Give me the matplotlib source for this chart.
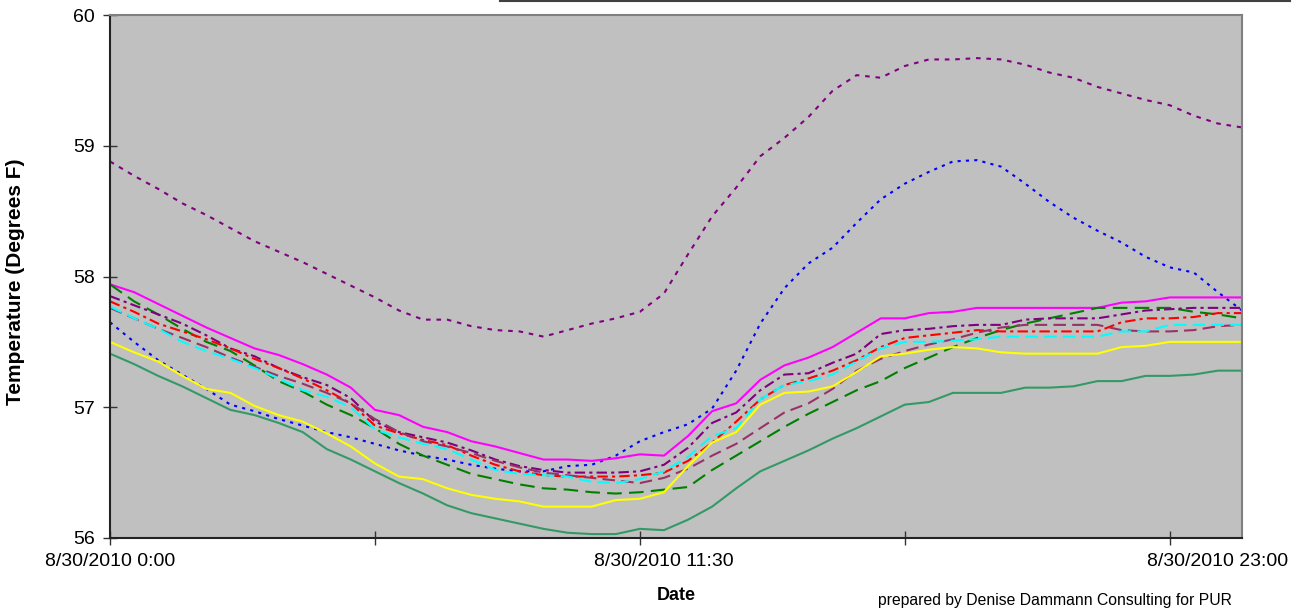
import matplotlib
matplotlib.use("Agg")
import matplotlib.pyplot as plt
from matplotlib.lines import Line2D

plt.rcParams["font.family"] = ["Liberation Sans", "DejaVu Sans"]

# half-hourly readings, 8/30/2010 0:00 to 23:30
hours = [i * 0.5 for i in range(48)]

s_purple_dot = [58.88, 58.77, 58.67, 58.56, 58.47, 58.37, 58.27, 58.19, 58.11, 58.02,
                57.93, 57.84, 57.74, 57.67, 57.67, 57.62, 57.59, 57.58, 57.54, 57.59,
                57.64, 57.68, 57.73, 57.87, 58.17, 58.46, 58.68, 58.92, 59.06, 59.22,
                59.42, 59.54, 59.52, 59.61, 59.66, 59.66, 59.67, 59.66, 59.62, 59.56,
                59.52, 59.45, 59.40, 59.35, 59.31, 59.23, 59.17, 59.14]
s_blue_dot = [57.65, 57.50, 57.36, 57.25, 57.14, 57.02, 56.97, 56.91, 56.86, 56.81,
              56.77, 56.72, 56.67, 56.63, 56.60, 56.56, 56.53, 56.51, 56.51, 56.55,
              56.56, 56.63, 56.74, 56.81, 56.87, 56.99, 57.28, 57.64, 57.91, 58.10,
              58.22, 58.41, 58.59, 58.71, 58.80, 58.88, 58.89, 58.84, 58.71, 58.57,
              58.45, 58.35, 58.26, 58.15, 58.07, 58.03, 57.88, 57.74]
s_magenta = [57.94, 57.88, 57.79, 57.70, 57.61, 57.53, 57.45, 57.40, 57.33, 57.25,
             57.15, 56.98, 56.94, 56.85, 56.81, 56.74, 56.70, 56.65, 56.60, 56.60,
             56.59, 56.61, 56.64, 56.63, 56.78, 56.97, 57.03, 57.21, 57.32, 57.38,
             57.46, 57.57, 57.68, 57.68, 57.72, 57.73, 57.76, 57.76, 57.76, 57.76,
             57.76, 57.76, 57.80, 57.81, 57.84, 57.84, 57.84, 57.84]
s_green_dash = [57.94, 57.81, 57.71, 57.60, 57.50, 57.43, 57.32, 57.20, 57.12, 57.02,
                56.94, 56.84, 56.72, 56.63, 56.56, 56.49, 56.45, 56.41, 56.38, 56.37,
                56.35, 56.34, 56.35, 56.37, 56.39, 56.52, 56.63, 56.74, 56.85, 56.95,
                57.04, 57.13, 57.20, 57.30, 57.38, 57.46, 57.53, 57.59, 57.64, 57.68,
                57.72, 57.76, 57.76, 57.76, 57.76, 57.73, 57.71, 57.68]
s_purple_dashdot = [57.85, 57.78, 57.71, 57.64, 57.55, 57.45, 57.39, 57.30, 57.23, 57.17,
                    57.07, 56.89, 56.81, 56.77, 56.73, 56.67, 56.60, 56.55, 56.52, 56.50,
                    56.50, 56.50, 56.51, 56.56, 56.69, 56.88, 56.96, 57.13, 57.25, 57.26,
                    57.34, 57.41, 57.56, 57.59, 57.60, 57.62, 57.63, 57.63, 57.67, 57.68,
                    57.68, 57.68, 57.71, 57.74, 57.75, 57.76, 57.76, 57.76]
s_red_dashdot = [57.81, 57.73, 57.64, 57.58, 57.52, 57.45, 57.37, 57.30, 57.22, 57.13,
                 57.03, 56.86, 56.80, 56.75, 56.71, 56.63, 56.56, 56.51, 56.48, 56.47,
                 56.47, 56.47, 56.48, 56.50, 56.59, 56.73, 56.89, 57.06, 57.17, 57.22,
                 57.28, 57.36, 57.46, 57.53, 57.55, 57.57, 57.59, 57.58, 57.58, 57.58,
                 57.58, 57.58, 57.65, 57.68, 57.68, 57.69, 57.72, 57.72]
s_plum_dash = [57.76, 57.68, 57.60, 57.53, 57.46, 57.38, 57.31, 57.24, 57.18, 57.11,
               57.03, 56.91, 56.81, 56.74, 56.70, 56.65, 56.59, 56.54, 56.50, 56.48,
               56.46, 56.44, 56.42, 56.46, 56.53, 56.63, 56.72, 56.84, 56.96, 57.03,
               57.14, 57.28, 57.37, 57.43, 57.48, 57.52, 57.57, 57.61, 57.63, 57.63,
               57.63, 57.63, 57.59, 57.58, 57.58, 57.59, 57.62, 57.63]
s_cyan_dash = [57.77, 57.68, 57.60, 57.50, 57.43, 57.37, 57.30, 57.22, 57.13, 57.08,
               57.00, 56.83, 56.77, 56.72, 56.68, 56.60, 56.52, 56.49, 56.48, 56.47,
               56.43, 56.42, 56.45, 56.51, 56.62, 56.78, 56.84, 57.06, 57.17, 57.20,
               57.25, 57.35, 57.45, 57.50, 57.50, 57.51, 57.52, 57.54, 57.54, 57.54,
               57.54, 57.54, 57.58, 57.58, 57.63, 57.63, 57.63, 57.63]
s_yellow = [57.50, 57.42, 57.35, 57.24, 57.14, 57.11, 57.01, 56.94, 56.89, 56.80,
            56.70, 56.57, 56.47, 56.45, 56.38, 56.33, 56.30, 56.28, 56.24, 56.24,
            56.24, 56.29, 56.30, 56.35, 56.55, 56.73, 56.81, 57.02, 57.11, 57.12,
            57.16, 57.27, 57.39, 57.41, 57.44, 57.46, 57.45, 57.42, 57.41, 57.41,
            57.41, 57.41, 57.46, 57.47, 57.50, 57.50, 57.50, 57.50]
s_seagreen = [57.41, 57.33, 57.24, 57.16, 57.07, 56.98, 56.94, 56.88, 56.81, 56.68,
              56.60, 56.51, 56.42, 56.34, 56.25, 56.19, 56.15, 56.11, 56.07, 56.04,
              56.03, 56.03, 56.07, 56.06, 56.14, 56.24, 56.38, 56.51, 56.59, 56.67,
              56.76, 56.84, 56.93, 57.02, 57.04, 57.11, 57.11, 57.11, 57.15, 57.15,
              57.16, 57.20, 57.20, 57.24, 57.24, 57.25, 57.28, 57.28]

label_hours = [0, 11.5, 23]
label_text = ["8/30/2010 0:00", "8/30/2010 11:30", "8/30/2010 23:00"]
y_ticks = [56, 57, 58, 59, 60]

series = [
    (s_purple_dot, "#800080", (0, (2.2, 2.8))),
    (s_blue_dot, "#0000FF", (0, (1.5, 2.5))),
    (s_magenta, "#FF00FF", "-"),
    (s_green_dash, "#008000", (0, (7, 3.5))),
    (s_purple_dashdot, "#800080", (0, (5, 2, 1.5, 2))),
    (s_red_dashdot, "#FF0000", (0, (5, 2, 1.5, 2))),
    (s_plum_dash, "#993366", (0, (6, 3))),
    (s_cyan_dash, "#00FFFF", (0, (6, 3))),
    (s_yellow, "#FFFF00", "-"),
    (s_seagreen, "#339966", "-"),
]

fig = plt.figure(figsize=(13, 6.11), dpi=100)
ax = fig.add_axes([110 / 1300, 1 - 538 / 611, 1132 / 1300, 523 / 611])
ax.set_facecolor("#C0C0C0")

for vals, col, ls in series:
    ax.plot(hours, vals, color=col, linestyle=ls, linewidth=1.5)

ax.set_xlim(0, 23.5)
ax.set_ylim(56, 60)

# tick marks every 22 readings (15 min), labels every 46
ax.xaxis.remove_overlapping_locs = False
ax.set_xticks([0, 5.5, 11, 16.5, 22])
ax.set_xticklabels([])
ax.set_xticks(label_hours, minor=True)
ax.set_xticklabels(label_text, minor=True)
ax.tick_params(axis="x", which="major", direction="inout", length=10, width=1, color="#333333")
ax.tick_params(axis="x", which="minor", length=0, pad=11, labelsize=14)

ax.set_yticks(y_ticks)
ax.set_yticklabels([str(v) for v in y_ticks])
ax.tick_params(axis="y", direction="inout", length=10, width=1, pad=6, labelsize=14,
               color="#333333")

for side in ("left", "bottom"):
    ax.spines[side].set_color("#222222")
    ax.spines[side].set_linewidth(1.5)
for side in ("top", "right"):
    ax.spines[side].set_color("#808080")
    ax.spines[side].set_linewidth(1.5)

ax.set_xlabel("Date", fontsize=13, fontweight="bold", labelpad=12)
ax.set_ylabel("Temperature (Degrees F)", fontsize=15, fontweight="bold")
ax.yaxis.set_label_coords(-85 / 1132, 0.49)

fig.text(878 / 1300, 1 - 601 / 611, "prepared by Denise Dammann Consulting for PUR",
         fontsize=11.3, ha="left", va="center")

# edge of the legend box above the plot
fig.add_artist(Line2D([500 / 1300, 1290 / 1300], [1 - 1 / 611, 1 - 1 / 611],
                      transform=fig.transFigure, color="#404040", linewidth=1.5))

fig.savefig("out.png", dpi=100)
